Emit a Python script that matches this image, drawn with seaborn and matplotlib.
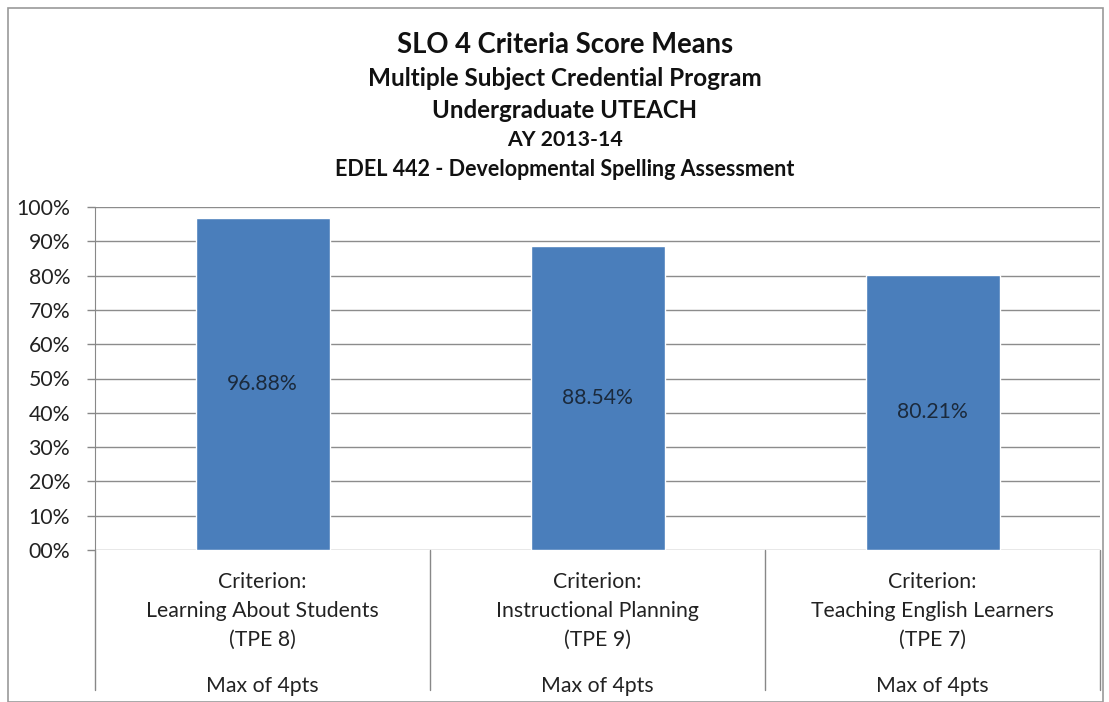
import matplotlib
matplotlib.use('Agg')
import matplotlib.pyplot as plt
import matplotlib.transforms as mtransforms
from matplotlib.patches import Rectangle
import pandas as pd
import seaborn as sns

criteria = ["Learning About Students", "Instructional Planning", "Teaching English Learners"]
tpe = ["(TPE 8)", "(TPE 9)", "(TPE 7)"]
max_pts = ["Max of 4pts", "Max of 4pts", "Max of 4pts"]
means = [96.88, 88.54, 80.21]
yticks = list(range(0, 101, 10))
ytick_labels = ["00%"] + [f"{v}%" for v in yticks[1:]]
titles = [
    ("SLO 4 Criteria Score Means", 19.8),
    ("Multiple Subject Credential Program", 17.5),
    ("Undergraduate UTEACH", 17.3),
    ("AY 2013-14", 15.3),
    ("EDEL 442 - Developmental Spelling Assessment", 15.5),
]

sns.set_style("white")
plt.rcParams['font.family'] = ['Lato', 'DejaVu Sans']

df = pd.DataFrame({"criterion": criteria, "mean": means})

fig = plt.figure(figsize=(11.09, 7.02), dpi=100)
ax = fig.add_axes([95 / 1109, 1 - 550 / 702, 1005 / 1109, 343 / 702])

sns.barplot(data=df, x="criterion", y="mean", color="#4A7EBB", width=0.4,
            saturation=1, ax=ax)

ax.set_xlim(-0.5, 2.5)
ax.set_ylim(0, 100)
ax.set_yticks(yticks)
ax.set_yticklabels(ytick_labels, fontsize=15.3, color="#222222")
ax.tick_params(axis="y", length=6, width=1, color="#888888", left=True, pad=12)
ax.set_xticks([])
ax.set_xlabel("")
ax.set_ylabel("")
ax.grid(axis="y", color="#8c8c8c", linewidth=1)
ax.set_axisbelow(True)
for side in ["top", "right", "bottom"]:
    ax.spines[side].set_visible(False)
ax.spines["left"].set_color("#888888")

# value labels in the middle of each bar
for i, v in enumerate(means):
    ax.text(i, v / 2, f"{v:.2f}%", ha="center", va="center",
            fontsize=15.2, color="#1b2a3c")

# category boxes under the plot
trans = mtransforms.blended_transform_factory(ax.transData, ax.transAxes)
for xd in [-0.5, 0.5, 1.5, 2.5]:
    ax.plot([xd, xd], [0, -140 / 343], transform=trans, color="#888888",
            linewidth=1, clip_on=False)
for i in range(len(criteria)):
    lines = ["Criterion:", criteria[i], tpe[i]]
    for j, txt in enumerate(lines):
        ax.text(i, -(32 + 29 * j) / 343, txt, transform=trans, ha="center",
                va="center", fontsize=15.3, color="#222222")
    ax.text(i, -136 / 343, max_pts[i], transform=trans, ha="center",
            va="center", fontsize=15.3, color="#222222")

# titles
ys = [45, 78, 110, 140, 170]
for (txt, size), y in zip(titles, ys):
    fig.text(565 / 1109, 1 - y / 702, txt, ha="center", va="center",
             fontsize=size, fontweight="bold", color="#111111")

# outer chart border
fig.patches.append(Rectangle((8 / 1109, 0), 1095 / 1109, 1 - 8 / 702,
                             transform=fig.transFigure, fill=False,
                             edgecolor="#999999", linewidth=1.2))

fig.savefig("out.png", dpi=100)
